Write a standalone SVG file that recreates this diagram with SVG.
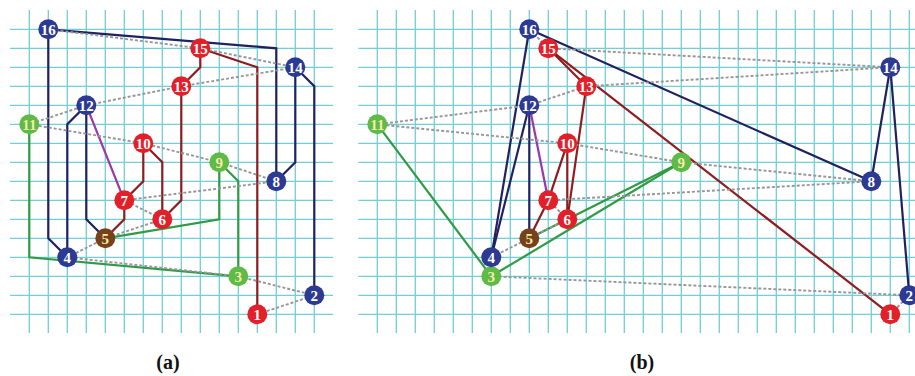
<svg xmlns="http://www.w3.org/2000/svg" width="915" height="376" viewBox="0 0 915 376">
<style>
.grid{stroke:#72cfd7;stroke-width:1.3;fill:none}
.e{fill:none;stroke-width:2.2;stroke-linejoin:miter}
.nv{stroke:#1f2160}
.rd{stroke:#8f1c1f}
.gr{stroke:#2f9b45}
.pu{stroke:#9c36a8}
.dash{fill:none;stroke:#979797;stroke-width:1.9;stroke-dasharray:3 2}
.n circle{stroke:none}
.cN{fill:#2c3a93}
.cR{fill:#e2202a}
.cG{fill:#5fba47}
.cB{fill:#76421b}
.t{font-weight:bold;font-size:15px;text-anchor:middle;fill:#ffffff}
.ty{fill:#f4eca6}
.lab{font-weight:bold;font-size:20px;text-anchor:middle;fill:#111}
</style>
<rect width="915" height="376" fill="#ffffff"/>
<g id="grid-a" class="grid">
<path d="M29.3 10V333M48.3 10V333M67.3 10V333M86.3 10V333M105.3 10V333M124.3 10V333M143.3 10V333M162.3 10V333M181.3 10V333M200.3 10V333M219.3 10V333M238.3 10V333M257.3 10V333M276.3 10V333M295.3 10V333M314.3 10V333"/>
<path d="M10 29.3H333M10 48.3H333M10 67.3H333M10 86.3H333M10 105.3H333M10 124.3H333M10 143.3H333M10 162.3H333M10 181.3H333M10 200.3H333M10 219.3H333M10 238.3H333M10 257.3H333M10 276.3H333M10 295.3H333M10 314.3H333"/>
</g>
<g id="grid-b" class="grid">
<path d="M377.3 10V333M396.3 10V333M415.3 10V333M434.3 10V333M453.3 10V333M472.3 10V333M491.3 10V333M510.3 10V333M529.3 10V333M548.3 10V333M567.3 10V333M586.3 10V333M605.3 10V333M624.3 10V333M643.3 10V333M662.3 10V333M681.3 10V333M700.3 10V333M719.3 10V333M738.3 10V333M757.3 10V333M776.3 10V333M795.3 10V333M814.3 10V333M833.3 10V333M852.3 10V333M871.3 10V333M890.3 10V333M909.3 10V333"/>
<path d="M358.3 29.3H915M358.3 48.3H915M358.3 67.3H915M358.3 86.3H915M358.3 105.3H915M358.3 124.3H915M358.3 143.3H915M358.3 162.3H915M358.3 181.3H915M358.3 200.3H915M358.3 219.3H915M358.3 238.3H915M358.3 257.3H915M358.3 276.3H915M358.3 295.3H915M358.3 314.3H915"/>
</g>
<g id="connectors-a">
<polyline class="e nv" points="48.3,29.3 276.3,48.3 276.3,181.3"/>
<polyline class="e nv" points="48.3,29.3 48.3,238.3 67.3,257.3"/>
<polyline class="e nv" points="295.3,67.3 295.3,162.3 276.3,181.3"/>
<polyline class="e nv" points="295.3,67.3 314.3,86.3 314.3,295.3"/>
<polyline class="e nv" points="86.3,105.3 67.3,124.3 67.3,257.3"/>
<polyline class="e nv" points="86.3,105.3 86.3,219.3 105.3,238.3"/>
<polyline class="e rd" points="200.3,48.3 200.3,67.3 181.3,86.3"/>
<polyline class="e rd" points="200.3,48.3 257.3,67.3 257.3,314.3"/>
<polyline class="e rd" points="181.3,86.3 181.3,200.3 162.3,219.3"/>
<polyline class="e rd" points="143.3,143.3 143.3,181.3 124.3,200.3"/>
<polyline class="e rd" points="143.3,143.3 162.3,162.3 162.3,219.3"/>
<polyline class="e rd" points="124.3,200.3 124.3,219.3 105.3,238.3"/>
<polyline class="e pu" points="86.3,105.3 124.3,200.3"/>
<polyline class="e gr" points="29.3,124.3 29.3,257.3 238.3,276.3"/>
<polyline class="e gr" points="219.3,162.3 219.3,219.3 105.3,238.3"/>
<polyline class="e gr" points="219.3,162.3 238.3,181.3 238.3,276.3"/>
<polyline class="dash" points="257.3,314.3 314.3,295.3 238.3,276.3 67.3,257.3 105.3,238.3 162.3,219.3 124.3,200.3 276.3,181.3 219.3,162.3 143.3,143.3 29.3,124.3 86.3,105.3 181.3,86.3 295.3,67.3 200.3,48.3 48.3,29.3"/>
</g>
<g id="connectors-b">
<polyline class="e nv" points="529.3,29.3 871.3,181.3"/>
<polyline class="e nv" points="529.3,29.3 491.3,257.3"/>
<polyline class="e nv" points="890.3,67.3 871.3,181.3"/>
<polyline class="e nv" points="890.3,67.3 909.3,295.3"/>
<polyline class="e nv" points="529.3,105.3 491.3,257.3"/>
<polyline class="e nv" points="529.3,105.3 529.3,238.3"/>
<polyline class="e rd" points="548.3,48.3 586.3,86.3"/>
<polyline class="e rd" points="548.3,48.3 890.3,314.3"/>
<polyline class="e rd" points="586.3,86.3 567.3,219.3"/>
<polyline class="e rd" points="567.3,143.3 548.3,200.3"/>
<polyline class="e rd" points="567.3,143.3 567.3,219.3"/>
<polyline class="e rd" points="548.3,200.3 529.3,238.3"/>
<polyline class="e pu" points="529.3,105.3 548.3,200.3"/>
<polyline class="e gr" points="377.3,124.3 491.3,276.3"/>
<polyline class="e gr" points="681.3,162.3 529.3,238.3"/>
<polyline class="e gr" points="681.3,162.3 491.3,276.3"/>
<polyline class="dash" points="890.3,314.3 909.3,295.3 491.3,276.3 491.3,257.3 529.3,238.3 567.3,219.3 548.3,200.3 871.3,181.3 681.3,162.3 567.3,143.3 377.3,124.3 529.3,105.3 586.3,86.3 890.3,67.3 548.3,48.3 529.3,29.3"/>
</g>
<g font-family="'Liberation Serif', 'DejaVu Serif', serif">
<g id="a1" class="n"><circle class="cR" cx="257.3" cy="314.3" r="10"/><text class="t" x="257.3" y="319.5">1</text></g>
<g id="a2" class="n"><circle class="cN" cx="314.3" cy="295.3" r="10"/><text class="t" x="314.3" y="300.5">2</text></g>
<g id="a3" class="n"><circle class="cG" cx="238.3" cy="276.3" r="10"/><text class="t ty" x="238.3" y="281.5">3</text></g>
<g id="a4" class="n"><circle class="cN" cx="67.3" cy="257.3" r="10"/><text class="t" x="67.3" y="262.5">4</text></g>
<g id="a5" class="n"><circle class="cB" cx="105.3" cy="238.3" r="10"/><text class="t ty" x="105.3" y="243.5">5</text></g>
<g id="a6" class="n"><circle class="cR" cx="162.3" cy="219.3" r="10"/><text class="t" x="162.3" y="224.5">6</text></g>
<g id="a7" class="n"><circle class="cR" cx="124.3" cy="200.3" r="10"/><text class="t" x="124.3" y="205.5">7</text></g>
<g id="a8" class="n"><circle class="cN" cx="276.3" cy="181.3" r="10"/><text class="t" x="276.3" y="186.5">8</text></g>
<g id="a9" class="n"><circle class="cG" cx="219.3" cy="162.3" r="10"/><text class="t ty" x="219.3" y="167.5">9</text></g>
<g id="a10" class="n"><circle class="cR" cx="143.3" cy="143.3" r="10"/><text class="t" x="143.3" y="148.5">10</text></g>
<g id="a11" class="n"><circle class="cG" cx="29.3" cy="124.3" r="10"/><text class="t ty" x="29.3" y="129.5">11</text></g>
<g id="a12" class="n"><circle class="cN" cx="86.3" cy="105.3" r="10"/><text class="t" x="86.3" y="110.5">12</text></g>
<g id="a13" class="n"><circle class="cR" cx="181.3" cy="86.3" r="10"/><text class="t" x="181.3" y="91.5">13</text></g>
<g id="a14" class="n"><circle class="cN" cx="295.3" cy="67.3" r="10"/><text class="t" x="295.3" y="72.5">14</text></g>
<g id="a15" class="n"><circle class="cR" cx="200.3" cy="48.3" r="10"/><text class="t" x="200.3" y="53.5">15</text></g>
<g id="a16" class="n"><circle class="cN" cx="48.3" cy="29.3" r="10"/><text class="t" x="48.3" y="34.5">16</text></g>
<g id="b1" class="n"><circle class="cR" cx="890.3" cy="314.3" r="10"/><text class="t" x="890.3" y="319.5">1</text></g>
<g id="b2" class="n"><circle class="cN" cx="909.3" cy="295.3" r="10"/><text class="t" x="909.3" y="300.5">2</text></g>
<g id="b3" class="n"><circle class="cG" cx="491.3" cy="276.3" r="10"/><text class="t ty" x="491.3" y="281.5">3</text></g>
<g id="b4" class="n"><circle class="cN" cx="491.3" cy="257.3" r="10"/><text class="t" x="491.3" y="262.5">4</text></g>
<g id="b5" class="n"><circle class="cB" cx="529.3" cy="238.3" r="10"/><text class="t ty" x="529.3" y="243.5">5</text></g>
<g id="b6" class="n"><circle class="cR" cx="567.3" cy="219.3" r="10"/><text class="t" x="567.3" y="224.5">6</text></g>
<g id="b7" class="n"><circle class="cR" cx="548.3" cy="200.3" r="10"/><text class="t" x="548.3" y="205.5">7</text></g>
<g id="b8" class="n"><circle class="cN" cx="871.3" cy="181.3" r="10"/><text class="t" x="871.3" y="186.5">8</text></g>
<g id="b9" class="n"><circle class="cG" cx="681.3" cy="162.3" r="10"/><text class="t ty" x="681.3" y="167.5">9</text></g>
<g id="b10" class="n"><circle class="cR" cx="567.3" cy="143.3" r="10"/><text class="t" x="567.3" y="148.5">10</text></g>
<g id="b11" class="n"><circle class="cG" cx="377.3" cy="124.3" r="10"/><text class="t ty" x="377.3" y="129.5">11</text></g>
<g id="b12" class="n"><circle class="cN" cx="529.3" cy="105.3" r="10"/><text class="t" x="529.3" y="110.5">12</text></g>
<g id="b13" class="n"><circle class="cR" cx="586.3" cy="86.3" r="10"/><text class="t" x="586.3" y="91.5">13</text></g>
<g id="b14" class="n"><circle class="cN" cx="890.3" cy="67.3" r="10"/><text class="t" x="890.3" y="72.5">14</text></g>
<g id="b15" class="n"><circle class="cR" cx="548.3" cy="48.3" r="10"/><text class="t" x="548.3" y="53.5">15</text></g>
<g id="b16" class="n"><circle class="cN" cx="529.3" cy="29.3" r="10"/><text class="t" x="529.3" y="34.5">16</text></g>
<text class="lab" x="168" y="369">(a)</text>
<text class="lab" x="642" y="369">(b)</text>
</g>
</svg>
